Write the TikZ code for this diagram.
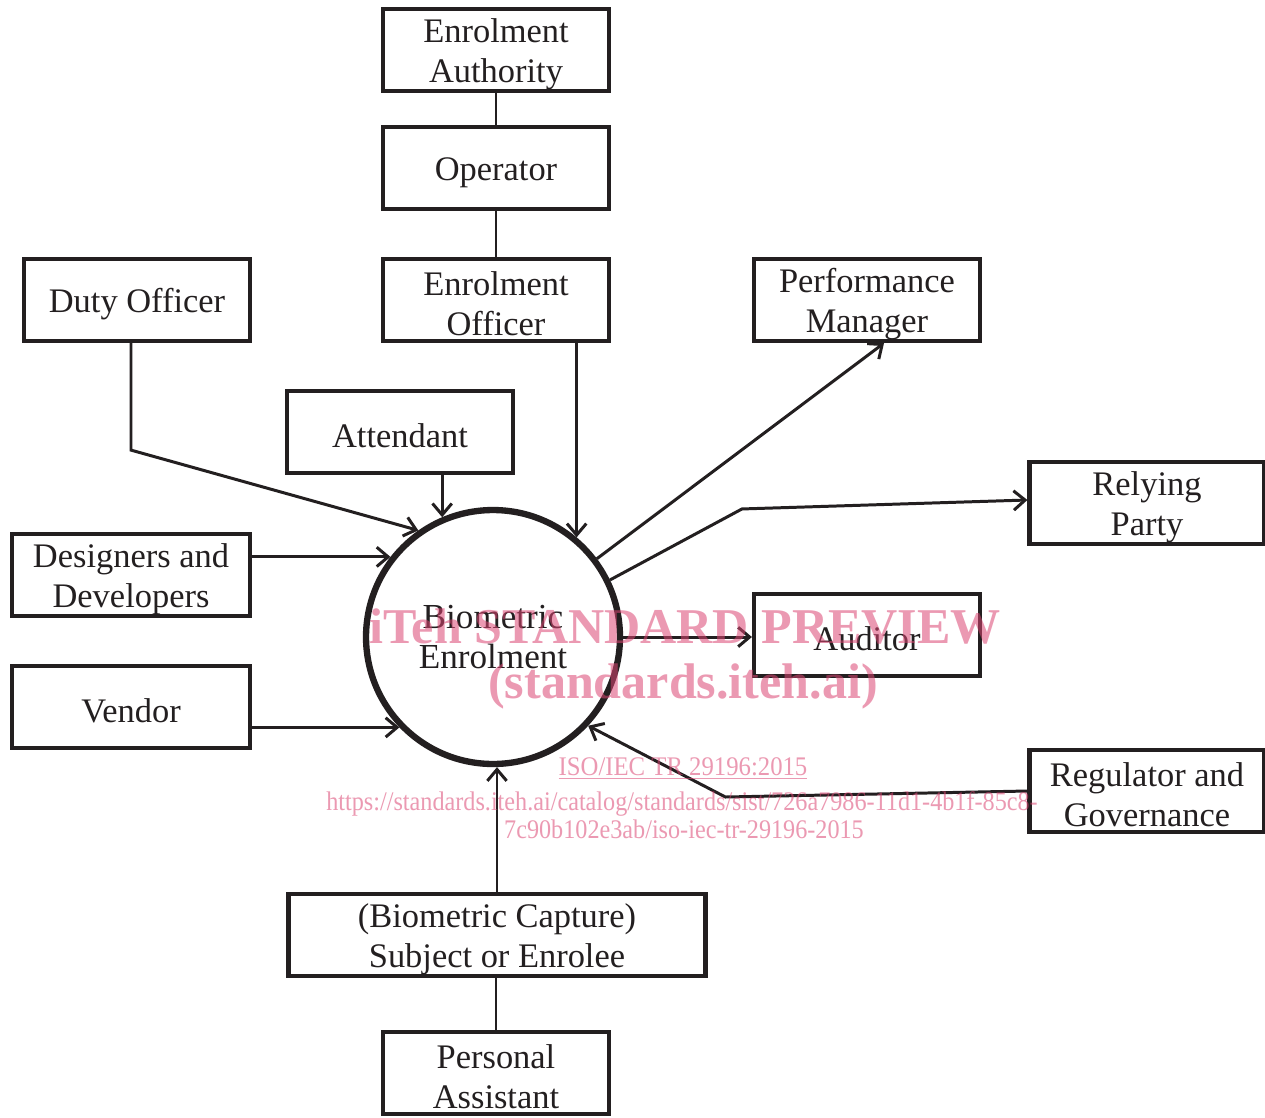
\documentclass[tikz,border=0pt]{standalone}
\usepackage{fontspec}
\usepackage{graphicx}
\setmainfont{Liberation Serif}
\usetikzlibrary{arrows.meta,calc}
\definecolor{ink}{HTML}{231F20}
\definecolor{wm}{RGB}{220,70,115}
\newcommand\fstrut{\rule{0pt}{18pt}}
\begin{document}
\begin{tikzpicture}[x=0.02cm,y=-0.02cm,
  box/.style={draw=ink,line width=2.4pt,minimum width=4.52cm,minimum height=1.64cm,inner sep=0pt,align=center,
    font=\fontsize{19.6}{22.7}\selectfont,text=ink,execute at begin node={\fstrut}},
  conn/.style={draw=ink,line width=1.7pt},
  arr/.style={conn,-{Straight Barb[length=6.5pt,width=11pt,line width=1.7pt]}},
  wmtext/.style={text=wm,text opacity=0.55,inner sep=0pt,anchor=base}]
\useasboundingbox (0,0) rectangle (1265,1117);
\clip (0,0) rectangle (1265,1117);
\fill[white] (0,0) rectangle (1265,1117);
% boxes
\node[box] (EA) at (496,50) {\fstrut Enrolment\\Authority};
\node[box] (OP) at (496,168) {Operator};
\node[box] (EO) at (496,300) {\fstrut Enrolment\\Officer};
\node[box] (DO) at (137,300) {Duty Officer};
\node[box] (PM) at (867,300) {\fstrut Performance\\Manager};
\node[box] (AT) at (400,432) {Attendant};
\node[box,minimum width=4.7cm] (RP) at (1147,503) {\fstrut Relying\\Party};
\node[box,minimum width=4.76cm] (DD) at (131,575) {\fstrut Designers and\\Developers};
\node[box,minimum width=4.76cm] (VE) at (131,707) {Vendor};
\node[box] (AU) at (867,635) {Auditor};
\node[box,minimum width=4.7cm] (RG) at (1147,791) {\fstrut Regulator and\\Governance};
\node[box,minimum width=8.34cm] (SE) at (497,935) {\fstrut(Biometric Capture)\\Subject or Enrolee};
\node[box] (PA) at (496,1073) {\fstrut Personal\\Assistant};
% central circle
\node[circle,draw=ink,line width=3.6pt,minimum size=5.08cm,inner sep=0pt,align=center,
  font=\fontsize{20}{22.7}\selectfont,text=ink] (C) at (493,637) {Biometric\\Enrolment};
% connectors
\draw[conn] (EA.south) -- (OP.north);
\draw[conn] (OP.south) -- (EO.north);
\draw[arr] (EO.south -| C.50.7) -- (C.50.7);
\draw[arr] ([xshift=-0.12cm]DO.south) -- ++(0,107) -- (C.125);
\draw[arr] (AT.south -| C.113.5) -- (C.113.5);
\draw[arr] (DD.east |- C.142.5) -- (C.142.5);
\draw[arr] (VE.east |- C.224) -- (C.224);
\draw[arr] (C.37) -- ([xshift=0.34cm]PM.south);
\draw[arr] (C.26) -- ++(132,-71) -- ([yshift=0.06cm]RP.west);
\draw[arr] (C.east) -- (C.east -| AU.west);
\draw[arr] (RG.west) -- ++(-302,6) -- (C.-43.5);
\draw[arr] (SE.north) -- (SE.north |- C.south);
\draw[conn] (PA.north |- SE.south) -- (PA.north);
% watermark
\node[wmtext,font=\bfseries\fontsize{28.5}{28.5}\selectfont] (W1) at (685,643) {iTeh STANDARD PREVIEW};
\node[wmtext,font=\bfseries\fontsize{28.5}{28.5}\selectfont] (W2) at (683,698) {(standards.iteh.ai)};
\node[wmtext,font=\fontsize{15.3}{15.3}\selectfont] (W3) at (683,775) {\scalebox{0.92}[1]{\underline{ISO/IEC TR 29196:2015}}};
\node[wmtext,font=\fontsize{15.3}{15.3}\selectfont] (W4) at (682,810) {\scalebox{0.9}[1]{https://standards.iteh.ai/catalog/standards/sist/726a7986-11d1-4b1f-85c8-}};
\node[wmtext,font=\fontsize{15.3}{15.3}\selectfont] (W5) at (684,838) {\scalebox{0.9}[1]{7c90b102e3ab/iso-iec-tr-29196-2015}};
\end{tikzpicture}
\end{document}
